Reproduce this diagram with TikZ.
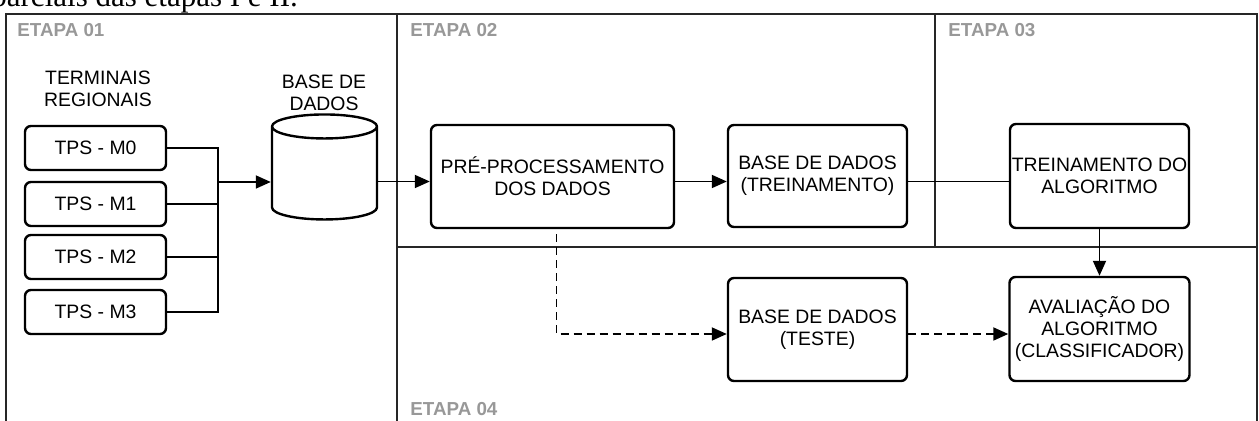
\documentclass[tikz,border=0pt]{standalone}
\usepackage{fontspec}
\setmainfont{Liberation Sans}
\newfontfamily\legendafont{Liberation Serif}
\usetikzlibrary{arrows.meta,shapes.geometric}
\definecolor{cinzaetapa}{RGB}{152,152,152}
\tikzset{
	caixa/.style={draw, rounded corners=3pt, line width=1.2pt, align=center, inner sep=0pt,
			font=\fontsize{9.7}{11}\selectfont},
	titulo/.style={align=center, inner sep=0pt, font=\fontsize{9.7}{11}\selectfont},
	etapa/.style={anchor=west, inner sep=0pt, text=cinzaetapa, font=\fontsize{9.4}{11}\selectfont\bfseries},
	divisoria/.style={line width=1.2pt, draw=black!85},
	linha/.style={line width=0.9pt},
	fluxo/.style={linha, -{Triangle[length=7.5pt,width=6.5pt]}},
	tracejada/.style={fluxo, dash pattern=on 4pt off 2.5pt}
}

\begin{document}
\begin{tikzpicture}[x=0.5pt, y=-0.5pt]
	\path[use as bounding box, clip] (0,0) rectangle (1259,421);

	% caption line cut at the top
	\node[anchor=base west, inner sep=0pt, font=\legendafont\fontsize{15.5}{18}\selectfont] (legenda) at (-9,7) {parciais das etapas I e II.};

	% frame and stage dividers
	\draw[divisoria] (6,440) -- (6,14) -- (1257,14) -- (1257,440);
	\draw[divisoria] (397,14) -- (397,440);
	\draw[divisoria] (397,247) -- (1257,247);
	\draw[divisoria] (935,14) -- (935,247);

	\node[etapa] (etapa1) at (17,30) {ETAPA 01};
	\node[etapa] (etapa2) at (410,30) {ETAPA 02};
	\node[etapa] (etapa3) at (948,30) {ETAPA 03};
	\node[etapa] (etapa4) at (410,409) {ETAPA 04};

	% stage 01: terminals and database
	\node[titulo] (terminais) at (98,89) {TERMINAIS\\REGIONAIS};
	\node[titulo] (rotulobanco) at (324,93) {BASE DE\\DADOS};
	\foreach \i/\y in {0/148,1/204,2/257,3/312}
		\node[caixa, minimum width=70.5pt, minimum height=22pt] (m\i) at (95.5,\y) {TPS - M\i};
	\node[draw, cylinder, shape border rotate=90, line width=1.2pt, aspect=1.8,
		minimum width=52.5pt, minimum height=52.5pt] (banco) at (324.5,176.5) {};

	% stages 02, 03 and 04
	\node[caixa, minimum width=121.5pt, minimum height=51.5pt] (preproc) at (552.5,176.5) {PRÉ-PROCESSAMENTO\\DOS DADOS};
	\node[caixa, minimum width=89.5pt, minimum height=51pt] (treinobd) at (817.5,176) {BASE DE DADOS\\(TREINAMENTO)};
	\node[caixa, minimum width=89.5pt, minimum height=52pt] (treinoalg) at (1099.5,176) {TREINAMENTO DO\\ALGORITMO};
	\node[caixa, minimum width=89.5pt, minimum height=51.5pt] (teste) at (817.5,329.5) {BASE DE DADOS\\(TESTE)};
	\node[caixa, minimum width=90pt, minimum height=52pt] (avaliacao) at (1099.5,329) {AVALIAÇÃO DO\\ALGORITMO\\(CLASSIFICADOR)};

	% connectors
	\coordinate (barra) at (218,182);
	\coordinate (fila) at (0,181.5);
	\coordinate (filateste) at (0,334);
	\foreach \i in {0,...,3}
		\draw[linha] (m\i.east) -| (barra);
	\draw[fluxo] (barra) -- (banco.west |- barra);
	\draw[fluxo] (banco.east |- fila) -- (preproc.west |- fila);
	\draw[fluxo] (preproc.east |- fila) -- (treinobd.west |- fila);
	\draw[linha] (treinobd.east |- fila) -- (treinoalg.west |- fila);
	\draw[fluxo] (treinoalg.south) -- (avaliacao.north);
	\draw[tracejada] ([xshift=2pt,yshift=-2.5pt]preproc.south) |- (teste.west |- filateste);
	\draw[tracejada] (teste.east |- filateste) -- (avaliacao.west |- filateste);
\end{tikzpicture}
\end{document}
